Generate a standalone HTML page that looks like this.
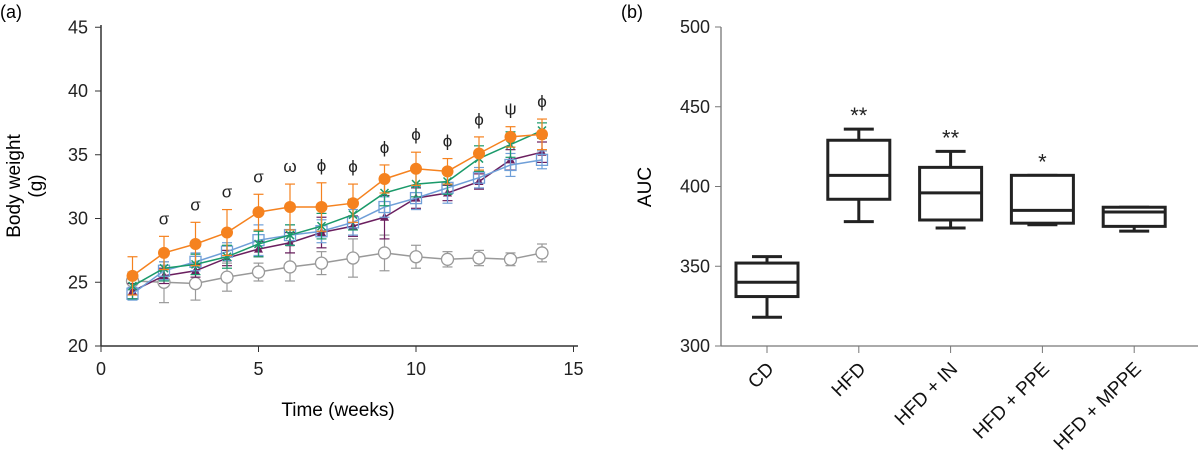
<!DOCTYPE html>
<html><head><meta charset="utf-8"><style>
body{margin:0;background:#fff}
svg{display:block;font-family:"Liberation Sans",Arial,sans-serif}
</style></head><body>
<svg id="s" width="1198" height="463" viewBox="0 0 1198 463" xmlns="http://www.w3.org/2000/svg">
<text x="0" y="18" font-size="18">(a)</text>
<text x="621" y="18" font-size="18">(b)</text>
<g id="A"></g>
<g id="B"></g>
</svg>
<script>
const weeks=[1,2,3,4,5,6,7,8,9,10,11,12,13,14];
const xTicks=[0,5,10,15];
const yTicks=[20,25,30,35,40,45];
const orangeVals=[25.5,27.3,28.0,28.9,30.5,30.9,30.9,31.2,33.1,33.9,33.7,35.1,36.4,36.6];
const orangeErr=[1.5,1.3,1.7,1.8,1.4,1.8,1.9,1.5,1.1,1.3,1.0,1.3,0.8,1.2];
const greenVals=[24.7,26.1,26.4,27.0,28.0,28.7,29.4,30.3,32.0,32.7,32.9,34.7,35.8,36.9];
const greenErr=[1.0,1.0,0.8,0.9,1.0,0.8,1.0,1.2,1.0,1.0,1.0,1.0,1.0,0.6];
const blueVals=[24.1,25.9,26.6,27.4,28.3,28.7,29.0,29.7,30.9,31.6,32.4,33.2,34.2,34.6];
const blueErr=[0.5,0.7,0.7,0.7,1.2,0.8,0.9,1.0,0.8,0.9,1.2,0.8,0.9,0.7];
const purpleVals=[24.3,25.5,25.9,26.9,27.6,28.1,28.9,29.4,30.1,31.6,32.0,32.9,34.6,35.2];
const purpleErr=[0.6,0.6,0.5,0.6,0.6,0.8,1.2,0.8,1.7,0.8,0.6,0.6,0.8,0.8];
const grayVals=[25.1,25.0,24.9,25.4,25.8,26.2,26.5,26.9,27.3,27.0,26.8,26.9,26.8,27.3];
const grayErr=[0.7,1.6,1.3,1.1,0.7,1.1,0.9,1.5,1.4,0.9,0.6,0.6,0.5,0.7];
const sigLabels=["","σ","σ","σ","σ","ω","ϕ","ϕ","ϕ","ϕ","ϕ","ϕ","ψ","ϕ"];
const groups=["CD","HFD","HFD + IN","HFD + PPE","HFD + MPPE"];
const whiskLo=[318,378,374,376,372];
const q1=[331,392,379,377,375];
const medians=[340,407,396,385,384];
const q3=[352,429,412,407,387];
const whiskHi=[356,436,422,407,387];
const stars=["","**","**","*",""];
const aucTicks=[300,350,400,450,500];

const NS="http://www.w3.org/2000/svg";
function mk(p,t,a){const e=document.createElementNS(NS,t);for(const k in a)e.setAttribute(k,a[k]);p.appendChild(e);return e;}
// Panel A
const A=document.getElementById('A');
const xA=v=>101+v*31.5, yA=v=>346-(v-20)*12.75;
let e=mk(A,'line',{x1:101,y1:25,x2:101,y2:346,stroke:'#333','stroke-width':1.5});

e=mk(A,'line',{x1:101,y1:346,x2:578,y2:346,stroke:'#333','stroke-width':1.5});

yTicks.forEach(t=>{mk(A,'line',{x1:95,y1:yA(t),x2:101,y2:yA(t),stroke:'#333'});
 e=mk(A,'text',{x:88,y:yA(t)+6,'font-size':18,'text-anchor':'end',fill:'#222'});e.textContent=t;
 });
xTicks.forEach(t=>{mk(A,'line',{x1:xA(t),y1:346,x2:xA(t),y2:352,stroke:'#333'});
 e=mk(A,'text',{x:xA(t),y:375,'font-size':18,'text-anchor':'middle',fill:'#222'});e.textContent=t;
 });
e=mk(A,'text',{x:338,y:416,'font-size':19,'text-anchor':'middle'});e.textContent='Time (weeks)';

e=mk(A,'text',{transform:'translate(20,186) rotate(-90)','font-size':19,'text-anchor':'middle'});
e.innerHTML='<tspan x="0" dy="0">Body weight</tspan><tspan x="0" dy="22">(g)</tspan>';

function series(vals,err,col,marker,name){
 const g=mk(A,'g',{});
 
 vals.forEach((v,i)=>{const x=xA(weeks[i]);
  mk(g,'line',{x1:x,y1:yA(v-err[i]),x2:x,y2:yA(v+err[i]),stroke:col,'stroke-width':1.2});
  [v-err[i],v+err[i]].forEach(w=>mk(g,'line',{x1:x-5,y1:yA(w),x2:x+5,y2:yA(w),stroke:col,'stroke-width':1.2}));});
 mk(g,'polyline',{points:vals.map((v,i)=>xA(weeks[i])+','+yA(v)).join(' '),fill:'none',stroke:col,'stroke-width':1.5});
 vals.forEach((v,i)=>{const x=xA(weeks[i]),y=yA(v);let m;
  if(marker==='dot')m=mk(g,'circle',{cx:x,cy:y,r:6,fill:col});
  else if(marker==='ring')m=mk(g,'circle',{cx:x,cy:y,r:6,fill:'#fff',stroke:col,'stroke-width':1.3});
  else if(marker==='sq')m=mk(g,'rect',{x:x-5.5,y:y-5.5,width:11,height:11,fill:'none',stroke:col,'stroke-width':1.3});
  else if(marker==='tri')m=mk(g,'path',{d:`M${x},${y-5}L${x+4.5},${y+3.5}L${x-4.5},${y+3.5}Z`,fill:col});
  else m=mk(g,'path',{d:`M${x-4},${y-4}L${x+4},${y+4}M${x+4},${y-4}L${x-4},${y+4}`,stroke:col,'stroke-width':1.5});
  });
}
series(grayVals,grayErr,'#999','ring','cd-series');
series(purpleVals,purpleErr,'#6b1f5f','tri','mppe-series');
series(blueVals,blueErr,'#6f9fd8','sq','ppe-series');
series(greenVals,greenErr,'#1a9a6a','x','in-series');
series(orangeVals,orangeErr,'#f5821f','dot','hfd-series');
sigLabels.forEach((s,i)=>{if(!s)return;
 e=mk(A,'text',{x:xA(weeks[i]),y:yA(orangeVals[i]+orangeErr[i])-12,'font-size':17,'text-anchor':'middle',fill:'#222'});e.textContent=s;
 });
// Panel B
const B=document.getElementById('B');
const yB=v=>346-(v-300)*1.595, xB=i=>767+i*91.8;
e=mk(B,'line',{x1:721,y1:27,x2:721,y2:346,stroke:'#777','stroke-width':1.3});

e=mk(B,'line',{x1:721,y1:346,x2:1198,y2:346,stroke:'#777','stroke-width':1.3});

aucTicks.forEach(t=>{mk(B,'line',{x1:715,y1:yB(t),x2:721,y2:yB(t),stroke:'#777'});
 e=mk(B,'text',{x:710,y:yB(t)+6,'font-size':18,'text-anchor':'end',fill:'#222'});e.textContent=t;
 });
e=mk(B,'text',{transform:'translate(651,187) rotate(-90)','font-size':19,'text-anchor':'middle'});e.textContent='AUC';

groups.forEach((gname,i)=>{const x=xB(i);
 mk(B,'line',{x1:x,y1:346,x2:x,y2:353,stroke:'#777'});
 const g=mk(B,'g',{stroke:'#222','stroke-width':3,fill:'none'});
 
 mk(g,'line',{x1:x,y1:yB(whiskLo[i]),x2:x,y2:yB(q1[i])});
 mk(g,'line',{x1:x,y1:yB(q3[i]),x2:x,y2:yB(whiskHi[i])});
 mk(g,'line',{x1:x-15,y1:yB(whiskLo[i]),x2:x+15,y2:yB(whiskLo[i])});
 mk(g,'line',{x1:x-15,y1:yB(whiskHi[i]),x2:x+15,y2:yB(whiskHi[i])});
 mk(g,'rect',{x:x-31,y:yB(q3[i]),width:62,height:yB(q1[i])-yB(q3[i]),fill:'#fff'});
 mk(g,'line',{x1:x-31,y1:yB(medians[i]),x2:x+31,y2:yB(medians[i])});
 if(stars[i]){e=mk(B,'text',{x:x,y:yB(whiskHi[i])-6,'font-size':22,'text-anchor':'middle',fill:'#222'});e.textContent=stars[i];
  }
 e=mk(B,'text',{transform:`translate(${x+8},370) rotate(-45)`,'font-size':19,'text-anchor':'end',fill:'#111'});e.textContent=gname;
 
});
</script>
</body></html>
